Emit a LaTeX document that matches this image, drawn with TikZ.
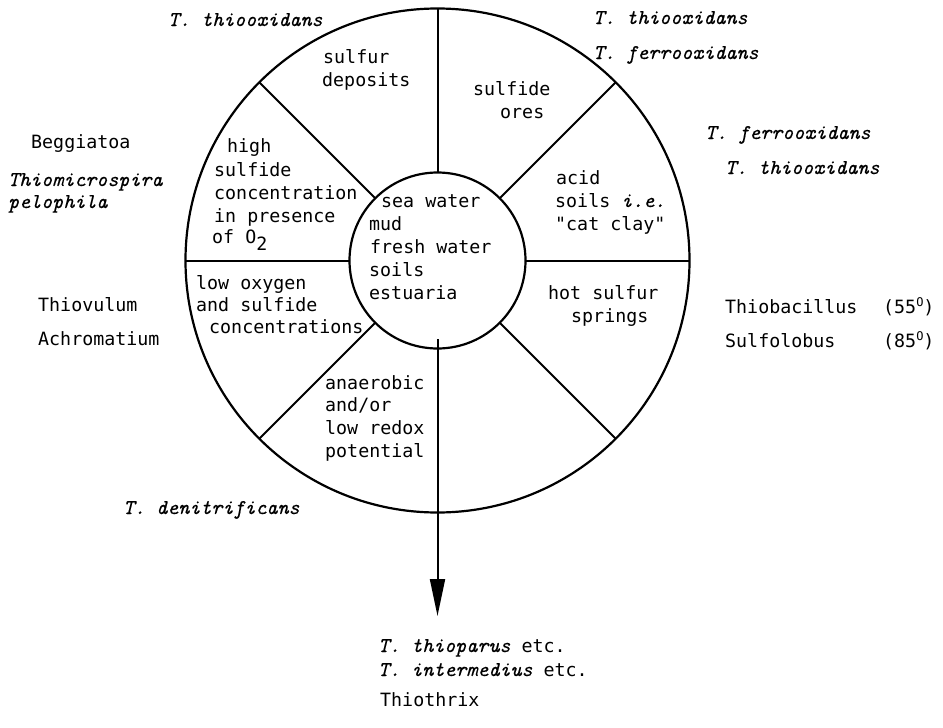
\documentclass[tikz,border=0pt]{standalone}
\usepackage{fontspec}
\newfontfamily\monofnt{DejaVu Sans Mono}
\newfontfamily\itmono{lmmono10-italic.otf}[FakeBold=0.4]
\usetikzlibrary{arrows.meta}
\newcommand{\upt}[1]{{\monofnt\upshape\fontsize{18.3}{23}\selectfont #1}}
\newcommand{\itt}[1]{{\itmono\fontsize{21}{23}\selectfont #1}}
\newcommand{\degO}{\raisebox{7pt}{\fontsize{12}{12}\selectfont O}}
\tikzset{
  lbl/.style={font=\monofnt\fontsize{18.3}{23}\selectfont, inner sep=0pt, anchor=base west},
  itl/.style={font=\itmono\fontsize{21}{23}\selectfont, inner sep=0pt, anchor=base west},
  ring/.style={draw, circle, line width=2.2pt, inner sep=0pt, outer sep=0pt},
  spoke/.style={line width=2pt},
}
\begin{document}
\begin{tikzpicture}[x=1pt,y=-1pt]
\useasboundingbox (0,0) rectangle (943,728);
% rings
\node[ring, minimum size=504pt] (outer) at (437.5,260.5) {};
\node[ring, minimum size=176pt] (inner) at (437.5,260.5) {};
\foreach \a in {0,45,90,135,180,225,315}
  \draw[spoke] (inner.\a) -- (outer.\a);
\coordinate (astart) at (437.5,339);
\coordinate (atip) at (437.5,616);
\draw[spoke, -{Triangle[length=37pt,width=15pt]}] (astart) -- (atip);

% centre
\node[lbl] (c1) at (381,207) {sea water};
\node[lbl] (c2) at (369,230) {mud};
\node[lbl] (c3) at (370,253) {fresh water};
\node[lbl] (c4) at (369,276) {soils};
\node[lbl] (c5) at (369,299) {estuaria};

% sectors
\node[lbl] (s1a) at (323,63) {sulfur};
\node[lbl] (s1b) at (322,86) {deposits};
\node[lbl] (s2a) at (473,95) {sulfide};
\node[lbl] (s2b) at (500,118) {ores};
\node[lbl] (s3a) at (556,184) {acid};
\node[lbl] (s3b) at (555,207) {soils \itt{i.e.}};
\node[lbl] (s3c) at (555,230) {"cat clay"};
\node[lbl] (s4a) at (548,299) {hot sulfur};
\node[lbl] (s4b) at (571,322) {springs};
\node[lbl] (s6a) at (325,389) {anaerobic};
\node[lbl] (s6b) at (325,411) {and/or};
\node[lbl] (s6c) at (325,434) {low redox};
\node[lbl] (s6d) at (325,457) {potential};
\node[lbl] (s7a) at (196,289) {low oxygen};
\node[lbl] (s7b) at (196,311) {and sulfide};
\node[lbl] (s7c) at (209,333) {concentrations};
\node[lbl] (s8a) at (227,152) {high};
\node[lbl] (s8b) at (214,176) {sulfide};
\node[lbl] (s8c) at (214,199) {concentration};
\node[lbl] (s8d) at (214,222) {in presence};
\node[lbl] (s8e) at (212,243) {of O\raisebox{-7pt}{2}};

% outside labels
\node[itl] (o1) at (168,26) {T. thiooxidans};
\node[itl] (o2) at (593,24) {T. thiooxidans};
\node[itl] (o3) at (593,59) {T. ferrooxidans};
\node[itl] (o4) at (705,139) {T. ferrooxidans};
\node[itl] (o5) at (725,174) {T. thiooxidans};
\node[lbl] (o6) at (725,313) {Thiobacillus};
\node[lbl] (o7) at (883,313) {(55\degO)};
\node[lbl] (o8) at (725,347) {Sulfolobus};
\node[lbl] (o9) at (883,347) {(85\degO)};
\node[lbl] (o10) at (31,148) {Beggiatoa};
\node[itl] (o11) at (8,186) {Thiomicrospira};
\node[itl] (o12) at (8,208) {pelophila};
\node[lbl] (o13) at (38,311) {Thiovulum};
\node[lbl] (o14) at (38,345) {Achromatium};
\node[itl] (o15) at (123,514) {T. denitrificans};
\node[itl] (o16) at (378,652) {T. thioparus \upt{etc.}};
\node[itl] (o17) at (378,676) {T. intermedius \upt{etc.}};
\node[lbl] (o18) at (380,706) {Thiothrix};
\end{tikzpicture}
\end{document}
